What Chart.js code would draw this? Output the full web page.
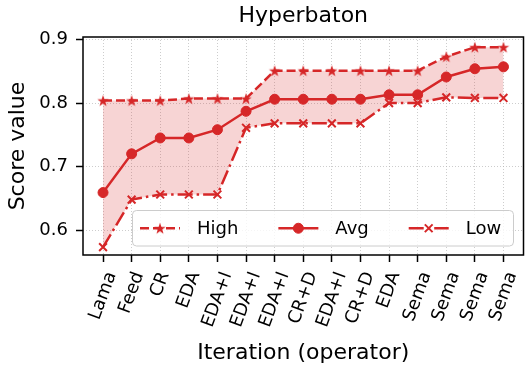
<!DOCTYPE html>
<html>
<head>
<meta charset="utf-8">
<script src="https://cdn.jsdelivr.net/npm/chart.js@4.4.0/dist/chart.umd.min.js"></script>
<style>
  html, body { margin: 0; padding: 0; background: #fff; }
  #wrap { width: 531px; height: 374px; }
</style>
</head>
<body>
<div id="wrap"><canvas id="chart" width="531" height="374"></canvas></div>
<script>
// values
const labels = ['Lama', 'Feed', 'CR', 'EDA', 'EDA+I', 'EDA+I', 'EDA+I', 'CR+D', 'EDA+I', 'CR+D', 'EDA', 'Sema', 'Sema', 'Sema', 'Sema'];
const high = [0.804, 0.804, 0.804, 0.807, 0.807, 0.807, 0.851, 0.851, 0.851, 0.851, 0.851, 0.851, 0.873, 0.888, 0.888];
const avg  = [0.659, 0.720, 0.745, 0.745, 0.758, 0.787, 0.806, 0.806, 0.806, 0.806, 0.813, 0.813, 0.841, 0.854, 0.857];
const low  = [0.573, 0.648, 0.656, 0.656, 0.656, 0.761, 0.768, 0.768, 0.768, 0.768, 0.800, 0.800, 0.809, 0.808, 0.808];
const yTicks = [0.6, 0.7, 0.8, 0.9];
const seriesNames = ['High', 'Avg', 'Low'];

const red = '#d62728';
const FONT = "'DejaVu Sans', sans-serif";

Chart.defaults.font.family = FONT;
Chart.defaults.color = '#000';

// filled five point star like matplotlib's '*'
function makeStar(r) {
  const c = document.createElement('canvas');
  const s = Math.ceil(r * 2 + 2);
  c.width = s; c.height = s;
  const g = c.getContext('2d');
  g.translate(s / 2, s / 2 + r * 0.1);
  g.beginPath();
  for (let i = 0; i < 10; i++) {
    const rr = i % 2 ? r * 0.4 : r;
    const a = -Math.PI / 2 + i * Math.PI / 5;
    g.lineTo(rr * Math.cos(a), rr * Math.sin(a));
  }
  g.closePath();
  g.fillStyle = red;
  g.fill();
  return c;
}
const starImg = makeStar(6);

function toPoints(arr) {
  return arr.map((v, i) => ({ x: i, y: v }));
}

const frameAndLabels = {
  id: 'frameAndLabels',
  afterDraw(chart) {
    const ctx = chart.ctx;
    const a = chart.chartArea;
    const xs = chart.scales.x;
    ctx.save();

    // x tick labels, rotated 70deg with the box centred on the tick
    ctx.font = '18px ' + FONT;
    ctx.fillStyle = '#000';
    const ang = 70 * Math.PI / 180;
    const th = 21;
    labels.forEach((lab, i) => {
      const w = ctx.measureText(lab).width;
      const bh = w * Math.sin(ang) + th * Math.cos(ang);
      const x = xs.getPixelForValue(i);
      const y = a.bottom + 14 + bh / 2;
      ctx.save();
      ctx.translate(x, y);
      ctx.rotate(-ang);
      ctx.textAlign = 'center';
      ctx.textBaseline = 'middle';
      ctx.fillText(lab, 0, 0);
      ctx.restore();
    });

    // legend box inside the plot
    const bx = 132.5, by = 210.5, bw = 381, bhh = 35.5;
    ctx.beginPath();
    ctx.roundRect(bx, by, bw, bhh, 4);
    ctx.fillStyle = 'rgba(255,255,255,0.8)';
    ctx.fill();
    ctx.lineWidth = 1;
    ctx.strokeStyle = '#cccccc';
    ctx.stroke();

    let x0 = 140;
    const ly = by + bhh / 2;
    chart.data.datasets.forEach((ds) => {
      ctx.strokeStyle = ds.borderColor;
      ctx.lineWidth = ds.borderWidth;
      ctx.setLineDash(ds.borderDash || []);
      ctx.beginPath();
      ctx.moveTo(x0, ly);
      ctx.lineTo(x0 + 40, ly);
      ctx.stroke();
      ctx.setLineDash([]);
      ctx.fillStyle = red;
      ctx.strokeStyle = red;
      ctx.lineWidth = ds.pointBorderWidth;
      Chart.helpers.drawPoint(ctx, {
        pointStyle: ds.pointStyle,
        radius: ds.pointRadius,
        rotation: 0,
        borderWidth: ds.pointBorderWidth
      }, x0 + 20, ly);
      ctx.font = '18px ' + FONT;
      ctx.fillStyle = '#000';
      ctx.textAlign = 'left';
      ctx.textBaseline = 'middle';
      ctx.fillText(ds.label, x0 + 57, ly + 1);
      x0 = x0 + 57 + ctx.measureText(ds.label).width + 40;
    });

    // four spines
    ctx.strokeStyle = '#000';
    ctx.lineWidth = 1.5;
    ctx.strokeRect(a.left, a.top, a.right - a.left, a.bottom - a.top);
    ctx.restore();
  }
};

new Chart(document.getElementById('chart'), {
  type: 'line',
  data: {
    datasets: [
      {
        label: seriesNames[0],
        data: toPoints(high),
        borderColor: red,
        backgroundColor: 'rgba(214,39,40,0.2)',
        fill: '+2',
        borderWidth: 2.5,
        borderDash: [9, 4],
        pointStyle: starImg,
        pointRadius: 6,
        pointBorderWidth: 1,
        pointBackgroundColor: red,
        pointBorderColor: red,
        tension: 0
      },
      {
        label: seriesNames[1],
        data: toPoints(avg),
        borderColor: red,
        backgroundColor: red,
        fill: false,
        borderWidth: 2.5,
        borderDash: [],
        pointStyle: 'circle',
        pointRadius: 5,
        pointBorderWidth: 1,
        pointBackgroundColor: red,
        pointBorderColor: red,
        tension: 0
      },
      {
        label: seriesNames[2],
        data: toPoints(low),
        borderColor: red,
        backgroundColor: red,
        fill: false,
        borderWidth: 2.5,
        borderDash: [15, 4, 2.5, 4],
        pointStyle: 'crossRot',
        pointRadius: 5.5,
        pointBorderWidth: 2,
        pointBackgroundColor: red,
        pointBorderColor: red,
        tension: 0
      }
    ]
  },
  options: {
    responsive: false,
    animation: false,
    devicePixelRatio: 1,
    layout: { padding: { left: 0, right: 7, top: 0, bottom: 0 } },
    plugins: {
      legend: { display: false },
      tooltip: { enabled: false },
      title: {
        display: true,
        text: 'Hyperbaton',
        fullSize: false,
        font: { size: 22, weight: 'normal' },
        color: '#000',
        padding: { top: 3, bottom: 7.6 }
      }
    },
    scales: {
      x: {
        type: 'linear',
        min: -0.7,
        max: 14.7,
        afterBuildTicks: (s) => { s.ticks = labels.map((_, i) => ({ value: i })); },
        afterFit: (s) => { s.height = 119; },
        ticks: { display: false },
        grid: {
          color: 'rgba(176,176,176,0.8)',
          lineWidth: 0.8,
          drawTicks: true,
          tickLength: 7,
          tickColor: '#000',
          tickWidth: 1.5,
          tickBorderDash: []
        },
        border: { display: false, dash: [1, 2] },
        title: {
          display: true,
          text: 'Iteration (operator)',
          font: { size: 22 },
          color: '#000',
          padding: { top: 0, bottom: 8 }
        }
      },
      y: {
        type: 'linear',
        min: 0.5607,
        max: 0.904,
        afterBuildTicks: (s) => { s.ticks = yTicks.map(v => ({ value: v })); },
        afterFit: (s) => { s.width = 83; },
        ticks: {
          font: { size: 18 },
          color: '#000',
          padding: 8,
          callback: (v) => v.toFixed(1)
        },
        grid: {
          color: 'rgba(176,176,176,0.8)',
          lineWidth: 0.8,
          drawTicks: true,
          tickLength: 7,
          tickColor: '#000',
          tickWidth: 1.5,
          tickBorderDash: []
        },
        border: { display: false, dash: [1, 2] },
        title: {
          display: true,
          text: 'Score value',
          font: { size: 22 },
          color: '#000',
          padding: { top: 5, bottom: 0 }
        }
      }
    }
  },
  plugins: [frameAndLabels]
});
</script>
</body>
</html>
